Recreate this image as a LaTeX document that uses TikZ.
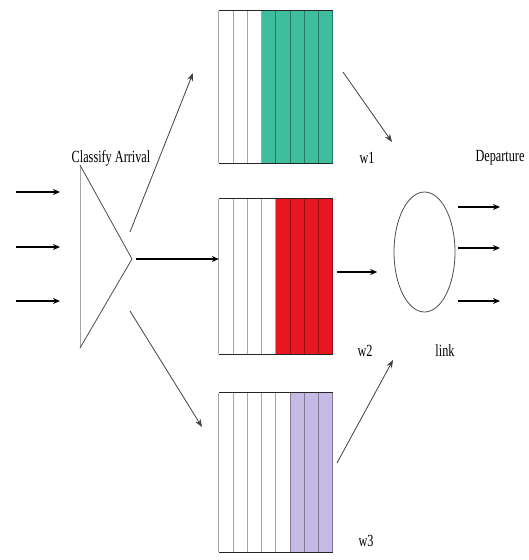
\documentclass[tikz,border=0pt]{standalone}
\usepackage{fontspec}
\setmainfont{Liberation Serif}
\usepackage{graphicx}
\usetikzlibrary{arrows.meta, shapes.geometric}

\definecolor{qgreen}{RGB}{62,190,158}
\definecolor{qred}{RGB}{232,22,32}
\definecolor{qpurple}{RGB}{196,186,228}
\newcommand{\lbl}[1]{\scalebox{0.72}[1]{#1}}

\begin{document}
\begin{tikzpicture}[
	x=1pt, y=-1pt,
	queue/.style = {rectangle, minimum width=114, inner sep=0},
	cell/.style = {draw=black, draw opacity=0.35, line width=0.9pt},
	rim/.style = {draw=black!85, line width=1.2pt},
	txt/.style = {font=\fontsize{17}{17}\selectfont, inner sep=0},
	r/.style = {-{Stealth[length=7pt, width=6pt]}, line width=1.1pt},
	d/.style = {-{Stealth[length=8pt, width=6pt]}, draw=black!75, line width=0.8pt}
	]
	\useasboundingbox (0,0) rectangle (528,560);

	%Queues
	\foreach \q/\yt/\yb/\nw/\col in {q1/11/163/3/qgreen, q2/199/354/4/qred, q3/393/552/5/qpurple} {
		\node[queue, minimum height=\yb-\yt]	(\q)	at	(276, {(\yt+\yb)/2})	{};
		\fill[\col]	(\q.north west)	++(\nw*14.25,0)	rectangle	(\q.south east);
		\foreach \i in {0,...,8}
			\draw[cell]	(\q.north west)	++(\i*14.25,0)	--	++(0,\yb-\yt);
		\draw[rim]	(\q.north west)	--	(\q.north east);
		\draw[rim]	(\q.south west)	--	(\q.south east);
	}

	%Nodes
	\coordinate	(ct)	at	(80, 165);
	\coordinate	(cb)	at	(80, 348);
	\coordinate	(apex)	at	(132, 259);
	\node[draw=black!70, line width=0.8pt, ellipse, minimum width=61, minimum height=120]	(link)	at	(424.5, 252)	{};

	\node[txt]	(cls)	at	(111, 158)	{\lbl{Classify Arrival}};
	\node[txt]	(dep)	at	(500, 158)	{\lbl{Departure}};
	\node[txt]	(w1)	at	(367, 158)	{\lbl{w1}};
	\node[txt]	(w2)	at	(365, 351)	{\lbl{w2}};
	\node[txt]	(w3)	at	(366, 541)	{\lbl{w3}};
	\node[txt]	(lk)	at	(445, 351)	{\lbl{link}};

	\coordinate	(up0)	at	(130, 232);
	\coordinate	(up1)	at	(193, 73);
	\coordinate	(dn0)	at	(130, 311);
	\coordinate	(dn1)	at	(202, 427);
	\coordinate	(a1)	at	(343, 72);
	\coordinate	(b1)	at	(392, 142);
	\coordinate	(a3)	at	(337, 463);
	\coordinate	(b3)	at	(393, 360);

	%Lines
	\draw[draw=black!35, line width=1pt]	(cb)	--	(ct);
	\draw[draw=black!70, line width=0.8pt]	(ct)	--	(apex)	--	(cb);

	\foreach \y [count=\k] in {192, 247, 301} {
		\coordinate	(in\k)	at	(16, \y);
		\coordinate	(ie\k)	at	(60, \y);
		\draw[r]	(in\k)	--	(ie\k);
	}
	\foreach \y [count=\k] in {207, 248, 301} {
		\coordinate	(out\k)	at	(458, \y);
		\coordinate	(oe\k)	at	(500, \y);
		\draw[r]	(out\k)	--	(oe\k);
	}

	\draw[r, shorten <=4pt]	(apex)	--	(apex -| q2.west);
	\draw[r]	(q2.east)	++(4,-4.5)	--	++(40,0);
	\draw[d]	(up0)	--	(up1);
	\draw[d]	(dn0)	--	(dn1);
	\draw[d]	(a1)	--	(b1);
	\draw[d]	(a3)	--	(b3);
\end{tikzpicture}
\end{document}
